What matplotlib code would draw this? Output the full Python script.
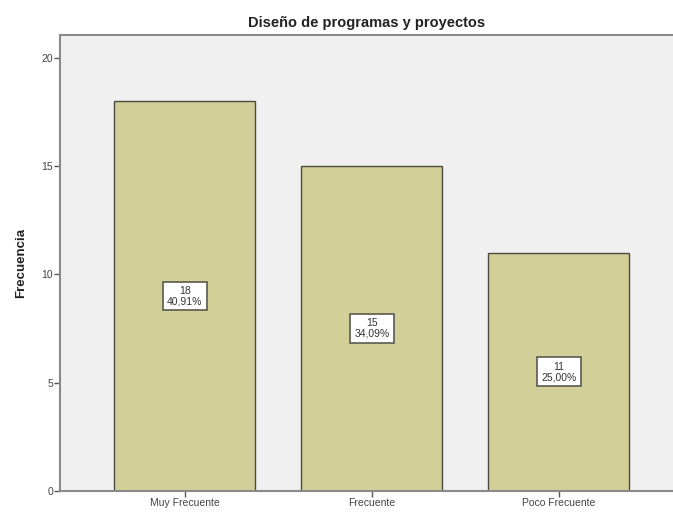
import matplotlib.pyplot as plt
import numpy as np

plt.rcParams['font.family'] = ['Liberation Sans', 'DejaVu Sans']

categorias = ['Muy Frecuente', 'Frecuente', 'Poco Frecuente']
frecuencias = [18, 15, 11]
porcentajes = ['40,91%', '34,09%', '25,00%']

narrow = ['Liberation Sans Narrow', 'Liberation Sans', 'DejaVu Sans']

fig = plt.figure(figsize=(6.73, 5.14), dpi=100)
ax = fig.add_axes([60 / 673, 23 / 514, 613 / 673, 456 / 514])
ax.set_facecolor('#F0F0F0')

x = np.arange(len(categorias))
ax.bar(x, frecuencias, width=0.754, color='#D3CF98', edgecolor='#4A4A40', linewidth=1.0, zorder=2)

# etiquetas con frecuencia y porcentaje en el centro de cada barra
for xi, f, p in zip(x, frecuencias, porcentajes):
    ax.text(xi, f / 2, f'{f}\n{p}', ha='center', va='center', fontsize=7.5,
            family=narrow, color='#333333', linespacing=1.05, zorder=3,
            bbox=dict(boxstyle='square,pad=0.4', facecolor='white', edgecolor='#5A5A50', linewidth=1.2))

ax.set_xlim(-0.668, 2.61)
ax.set_ylim(0, 21.05)
ax.set_yticks([0, 5, 10, 15, 20])
ax.set_xticks(x)
ax.set_xticklabels(categorias)
ax.tick_params(axis='both', direction='out', length=4, width=1, color='#555555',
               labelsize=7.5, labelcolor='#444444', pad=1)
for lab in ax.get_xticklabels() + ax.get_yticklabels():
    lab.set_family(narrow)

for s in ['left', 'bottom', 'top']:
    ax.spines[s].set_color('#8A8A8A')
    ax.spines[s].set_linewidth(1.5)
ax.spines['right'].set_visible(False)

ax.set_ylabel('Frecuencia', fontsize=9.5, fontweight='bold', color='#222222', labelpad=10)
ax.set_title('Diseño de programas y proyectos', fontsize=10.5, fontweight='bold', color='#222222', pad=6)

plt.savefig('out.png', dpi=100)
